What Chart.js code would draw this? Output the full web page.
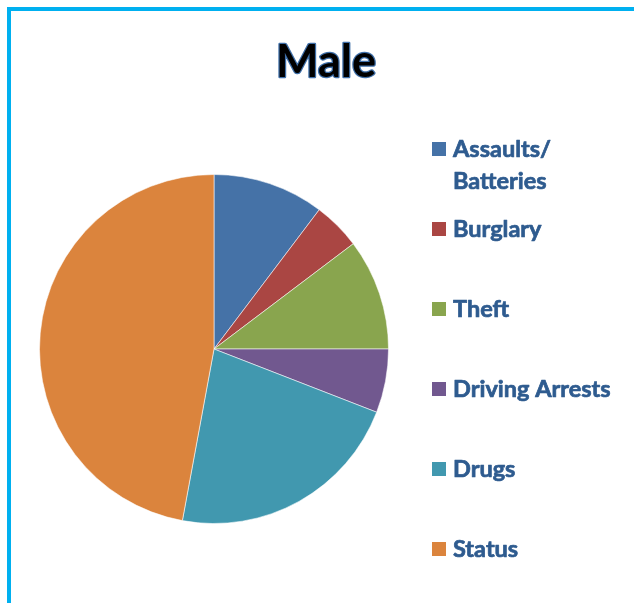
<!DOCTYPE html>
<html><head><meta charset="utf-8">
<script src="https://cdn.jsdelivr.net/npm/chart.js@4/dist/chart.umd.min.js"></script>
<style>
html,body{margin:0;padding:0;background:#fff;overflow:hidden}
#wrap{position:relative;width:634px;height:603px}
#frame{position:absolute;left:7px;top:7px;right:0;bottom:0;border-left:4px solid #00B0F0;border-top:4px solid #00B0F0;pointer-events:none}
canvas{position:absolute;left:0;top:0}
</style></head><body>
<div id="wrap"><canvas id="c" width="634" height="603"></canvas><div id="frame"></div></div>
<script>
const chartTitle = 'Male';
const categories = [['Assaults/', 'Batteries'], 'Burglary', 'Theft', 'Driving Arrests', 'Drugs', 'Status'];
const values = [10.3, 4.4, 10.3, 5.9, 22.0, 47.1];
const sliceColors = ['#4572A7', '#AA4643', '#89A54E', '#71588F', '#4198AF', '#DB843D'];

const titlePlugin = {
  id: 'outlinedTitle',
  afterDraw(chart, args, o) {
    const ctx = chart.ctx;
    ctx.save();
    ctx.font = 'bold 45px Lato';
    ctx.textAlign = 'center';
    ctx.textBaseline = 'alphabetic';
    ctx.lineJoin = 'round';
    ctx.strokeStyle = '#3F6FA8';
    ctx.lineWidth = 2.5;
    ctx.strokeText(o.text, o.x, o.y);
    ctx.fillStyle = '#000';
    ctx.fillText(o.text, o.x, o.y);
    ctx.restore();
  }
};

const legendPlugin = {
  id: 'sideLegend',
  afterDraw(chart, args, o) {
    const ctx = chart.ctx;
    const items = Chart.overrides.pie.plugins.legend.labels.generateLabels(chart);
    ctx.save();
    ctx.font = 'bold ' + o.fontSize + 'px Lato';
    ctx.textBaseline = 'middle';
    ctx.textAlign = 'left';
    ctx.lineJoin = 'round';
    items.forEach((it, i) => {
      const y = o.top + i * o.step;
      ctx.fillStyle = it.fillStyle;
      ctx.fillRect(o.boxX, y - o.box / 2, o.box, o.box);
      ctx.fillStyle = o.color;
      ctx.strokeStyle = o.color;
      ctx.lineWidth = 0.7;
      const lines = Array.isArray(it.text) ? it.text : [it.text];
      lines.forEach((ln, j) => {
        ctx.strokeText(ln, o.textX, y + j * o.lineHeight);
        ctx.fillText(ln, o.textX, y + j * o.lineHeight);
      });
    });
    ctx.restore();
  }
};

new Chart(document.getElementById('c'), {
  type: 'pie',
  data: {
    labels: categories,
    datasets: [{
      data: values,
      backgroundColor: sliceColors,
      borderColor: 'rgba(255,255,255,0.55)',
      borderWidth: 1
    }]
  },
  options: {
    responsive: false,
    devicePixelRatio: 1,
    animation: false,
    layout: { padding: { left: 39, right: 245, top: 174, bottom: 79 } },
    plugins: {
      legend: { display: false },
      title: { display: false },
      tooltip: { enabled: false },
      outlinedTitle: { text: chartTitle, x: 326, y: 77 },
      sideLegend: { top: 149, step: 80, lineHeight: 32, boxX: 432, box: 14, textX: 453, fontSize: 23.5, color: '#2E5B8F' }
    }
  },
  plugins: [titlePlugin, legendPlugin]
});
</script>
</body></html>
